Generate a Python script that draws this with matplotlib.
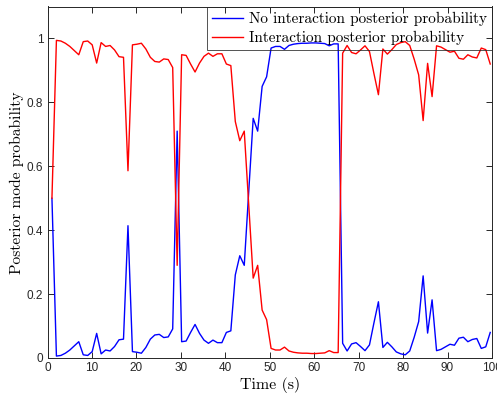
import numpy as np
import matplotlib
matplotlib.use("Agg")
import matplotlib.pyplot as plt

# Posterior probability of "no interaction" (blue); red = interaction
no_interaction = [
    0.50, 0.006, 0.008, 0.015, 0.025, 0.038, 0.051, 0.010, 0.008, 0.020,
    0.077, 0.013, 0.025, 0.022, 0.036, 0.057, 0.059, 0.414, 0.020, 0.018,
    0.015, 0.033, 0.059, 0.072, 0.074, 0.064, 0.066, 0.091, 0.71, 0.051,
    0.053, 0.080, 0.105, 0.077, 0.056, 0.046, 0.056, 0.048, 0.048, 0.080,
    0.085, 0.26, 0.32, 0.29, 0.52, 0.75, 0.71, 0.85, 0.88, 0.97,
    0.975, 0.975, 0.966, 0.978, 0.982, 0.984, 0.985, 0.985, 0.986, 0.986,
    0.985, 0.984, 0.977, 0.983, 0.983, 0.046, 0.022, 0.044, 0.048, 0.036,
    0.023, 0.041, 0.11, 0.176, 0.033, 0.049, 0.035, 0.019, 0.013, 0.010,
    0.022, 0.065, 0.114, 0.257, 0.078, 0.182, 0.023, 0.027, 0.035, 0.043,
    0.040, 0.062, 0.065, 0.051, 0.058, 0.061, 0.030, 0.035, 0.080,
]
interaction = [1.0 - v for v in no_interaction]
time = np.linspace(1.0, 99.6, len(no_interaction))

x_ticks = [0, 10, 20, 30, 40, 50, 60, 70, 80, 90, 100]
y_ticks = [0, 0.2, 0.4, 0.6, 0.8, 1.0]
y_tick_labels = ["0", "0.2", "0.4", "0.6", "0.8", "1"]
legend_labels = ["No interaction posterior probability", "Interaction posterior probability"]

plt.rcParams['axes.unicode_minus'] = False
fig = plt.figure(figsize=(4.97, 3.95), dpi=100)
ax = fig.add_axes([47.5 / 497, 1 - 358 / 395, (492 - 47.5) / 497, (358 - 6.5) / 395])

ax.plot(time, no_interaction, color=(0, 0, 1), lw=1.0, label=legend_labels[0])
ax.plot(time, interaction, color=(1, 0, 0), lw=1.0, label=legend_labels[1])

ax.set_xlim(0, 100)
ax.set_ylim(0, 1.1)
ax.set_xticks(x_ticks)
ax.set_xticklabels([str(v) for v in x_ticks], fontfamily="Liberation Sans", fontsize=8.5, color="#262626")
ax.set_yticks(y_ticks)
ax.set_yticklabels(y_tick_labels, fontfamily="Liberation Sans", fontsize=8.5, color="#262626")
ax.tick_params(direction="in", length=4, width=0.7, top=True, right=True, color="#262626", pad=3)
for s in ax.spines.values():
    s.set_color("#262626")
    s.set_linewidth(0.7)

ax.set_xlabel("Time (s)", fontfamily="cmr10", fontsize=11.5, labelpad=2)
ax.set_ylabel("Posterior mode probability", fontfamily="cmr10", fontsize=11.2, labelpad=2)

leg = ax.legend(loc="upper right", borderaxespad=0, fancybox=False, frameon=True,
                edgecolor="#262626", prop={"family": "cmr10", "size": 11},
                handlelength=2.0, handletextpad=0.4, labelspacing=0.3, borderpad=0.35)
leg.get_frame().set_linewidth(0.7)
leg.get_frame().set_facecolor("none")

fig.savefig("out.png", dpi=100)
